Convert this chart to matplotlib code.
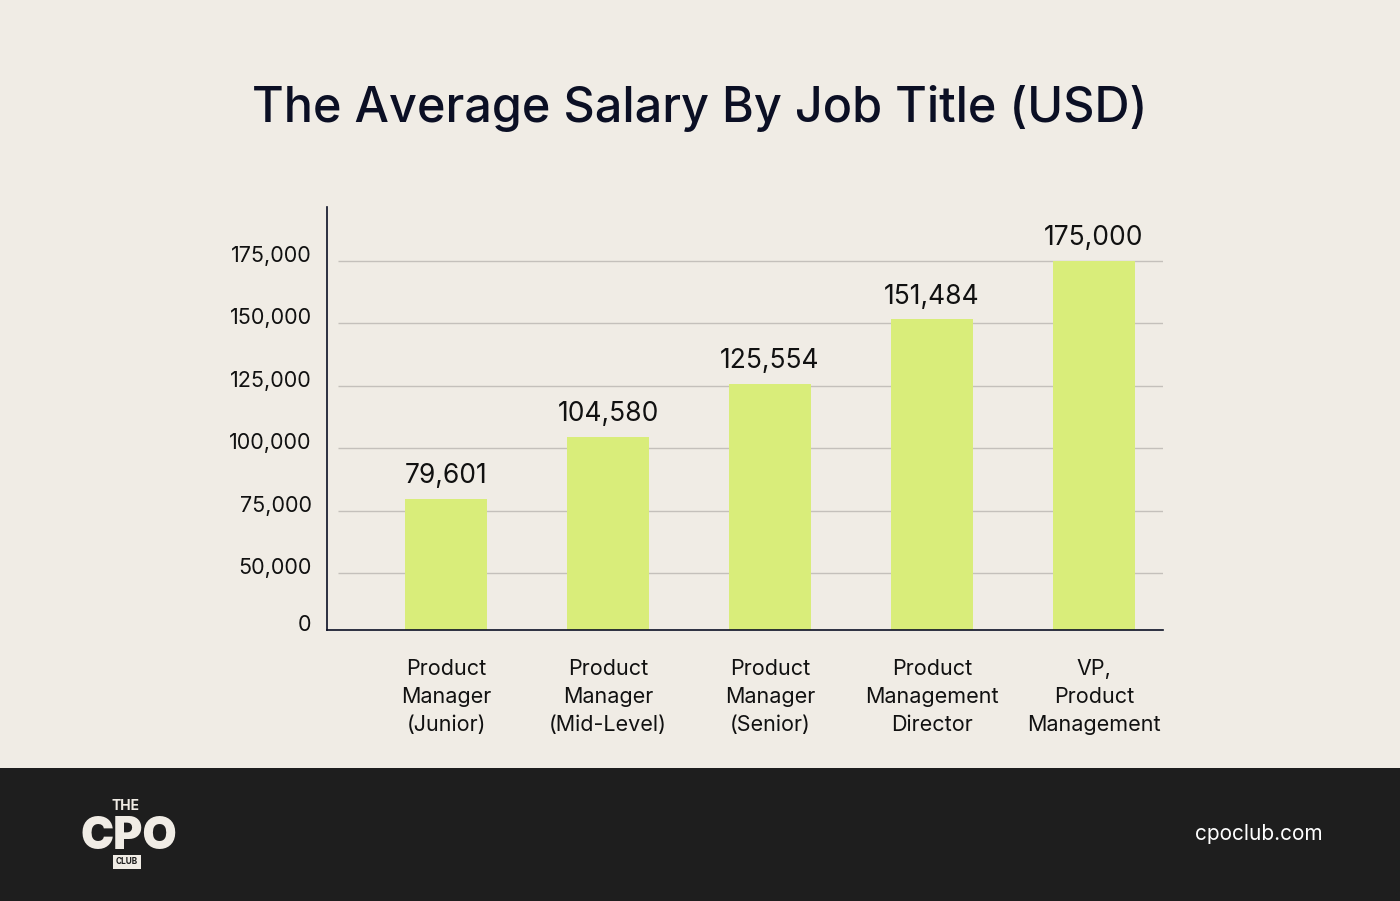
import numpy as np
import matplotlib.pyplot as plt
from matplotlib.patches import Rectangle
from matplotlib.transforms import ScaledTranslation

plt.rcParams['font.family'] = ['Inter', 'DejaVu Sans']

# data
titles = ["Product\nManager\n(Junior)", "Product\nManager\n(Mid-Level)", "Product\nManager\n(Senior)",
          "Product\nManagement\nDirector", "VP,\nProduct\nManagement"]
salaries = [79601, 104580, 125554, 151484, 175000]
ticks = [0, 50000, 75000, 100000, 125000, 150000, 175000]

bg = "#f0ece5"
bar_col = "#d9ed7a"
ink = "#0b0f24"


# the y axis in the original squeezes 0-50k, so use a piecewise scale
def fwd(v):
    v = np.asarray(v, dtype=float)
    return np.where(v < 50000, v * 57 / 50000, 57 + (v - 50000) * 0.0025)


def inv(p):
    p = np.asarray(p, dtype=float)
    return np.where(p < 57, p * 50000 / 57, 50000 + (p - 57) / 0.0025)


fig = plt.figure(figsize=(14, 9.01), dpi=100, facecolor=bg)
ax = fig.add_axes([327 / 1400, 1 - 630 / 901, (1163 - 327) / 1400, (630 - 207) / 901])
ax.set_facecolor(bg)
ax.set_yscale('function', functions=(fwd, inv))

x = np.arange(len(titles))
ax.bar(x, salaries, width=0.506, color=bar_col, zorder=2)
for xi, s in zip(x, salaries):
    ax.annotate(f"{s:,}", (xi, s), xytext=(0, 7), textcoords="offset points",
                ha="center", va="bottom", fontsize=19, color="#111111")

ax.set_xlim(-0.735, 4.426)
ax.set_ylim(0, inv(423).item())
ax.hlines(ticks[1:], -0.665, 4.426, color="#c4c0bb", lw=1, zorder=1)

ax.set_yticks(ticks)
ax.set_yticklabels([f"{t:,}" for t in ticks])
ax.set_xticks(x)
ax.set_xticklabels(titles, linespacing=1.5)
ax.tick_params(axis='y', length=0, pad=11, labelsize=15.5, labelcolor="#111111")
ax.tick_params(axis='x', length=0, pad=21, labelsize=15.5, labelcolor="#111111")

# tick labels sit a little above their gridlines in the original
shift = ScaledTranslation(0, 5 / 72, fig.dpi_scale_trans)
for lab in ax.get_yticklabels():
    lab.set_transform(lab.get_transform() + shift)

for side in ["top", "right"]:
    ax.spines[side].set_visible(False)
ax.spines["left"].set_color(ink)
ax.spines["bottom"].set_color(ink)
ax.spines["left"].set_linewidth(1.2)
ax.spines["bottom"].set_linewidth(1.2)

fig.text(0.5, 1 - 108 / 901, "The Average Salary By Job Title (USD)", ha="center", va="center",
         fontsize=35, color=ink, fontweight="medium")

# footer band with logo and url
fig.patches.append(Rectangle((0, 0), 1, 133 / 901, transform=fig.transFigure,
                             facecolor="#1e1e1e", edgecolor="none", zorder=0))
logo = "#f0ece5"
fig.text(126 / 1400, 1 - 806 / 901, "THE", ha="center", va="center", fontsize=10,
         fontweight="bold", color=logo)
fig.text(129 / 1400, 1 - 837 / 901, "CPO", ha="center", va="center", fontsize=32,
         fontweight="black", color=logo)
fig.text(127 / 1400, 1 - 862 / 901, "CLUB", ha="center", va="center", fontsize=6,
         fontweight="bold", color="#1e1e1e",
         bbox=dict(boxstyle="square,pad=0.3", facecolor=logo, edgecolor="none"))
fig.text(1323 / 1400, 1 - 834 / 901, "cpoclub.com", ha="right", va="center",
         fontsize=15, color="white")

fig.savefig("out.png", dpi=100, facecolor=bg)
